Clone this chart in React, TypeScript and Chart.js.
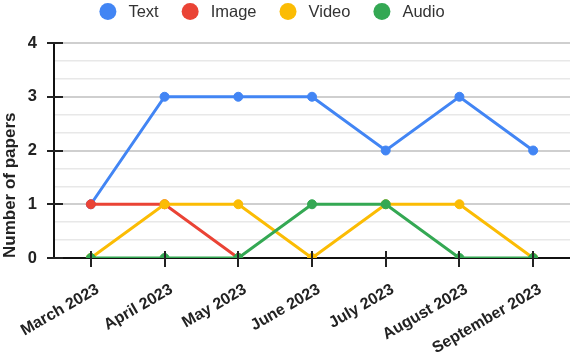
import React, { useEffect, useRef } from "react";
import { Chart, registerables } from "chart.js";

Chart.register(...registerables);

const CATEGORIES = [
  "March 2023",
  "April 2023",
  "May 2023",
  "June 2023",
  "July 2023",
  "August 2023",
  "September 2023",
];
const SERIES_NAMES = ["Text", "Image", "Video", "Audio"];
const SERIES_COLORS = ["#4285F4", "#EA4335", "#FBBC04", "#34A853"];
const TEXT_VALUES = [1, 3, 3, 3, 2, 3, 2];
const IMAGE_VALUES = [1, 1, 0, null, null, null, null];
const VIDEO_VALUES = [0, 1, 1, 0, 1, 1, 0];
const AUDIO_VALUES = [0, 0, 0, 1, 1, 0, 0];
const Y_TICK_VALUES = [0, 1, 2, 3, 4];
const Y_TICK_LABELS = ["0", "1", "2", "3", "4"];
const Y_MINOR_DIVISIONS = 3;
const Y_TITLE = "Number of papers";

const FONT = '"Liberation Sans", Arial, sans-serif';

// let the plot area run to the right edge of the canvas (Chart.js insets it by the point overflow)
const fullWidthArea = {
  id: "fullWidthArea",
  afterLayout(chart: any) {
    const xs = chart.scales.x;
    const delta = chart.width - chart.chartArea.right;
    if (delta > 0) {
      chart.chartArea.right += delta;
      chart.chartArea.width += delta;
      xs.right += delta;
      xs.width += delta;
      xs.configure();
    }
  },
};

const crossTicks = {
  id: "crossTicks",
  afterDraw(chart: any) {
    const ctx = chart.ctx;
    const xs = chart.scales.x;
    const ys = chart.scales.y;
    const area = chart.chartArea;
    ctx.save();
    ctx.strokeStyle = "#222";
    ctx.lineWidth = 2;
    ctx.beginPath();
    Y_TICK_VALUES.forEach((v) => {
      const py = Math.round(ys.getPixelForValue(v));
      ctx.moveTo(area.left - 7, py);
      ctx.lineTo(area.left + 9, py);
    });
    CATEGORIES.forEach((_, i) => {
      const px = Math.round(xs.getPixelForValue(i));
      ctx.moveTo(px, area.bottom - 7);
      ctx.lineTo(px, area.bottom + 9);
    });
    ctx.stroke();
    ctx.restore();
  },
};

const customLegend = {
  id: "customLegend",
  afterDraw(chart: any) {
    const ctx = chart.ctx;
    ctx.save();
    ctx.font = `16.5px ${FONT}`;
    ctx.textBaseline = "middle";
    ctx.textAlign = "left";
    const r = 8.5;
    const gapCircleText = 12;
    const gapItems = 23;
    const widths = SERIES_NAMES.map((n) => ctx.measureText(n).width);
    const total =
      widths.reduce((a, b) => a + b, 0) +
      SERIES_NAMES.length * (2 * r + gapCircleText) +
      (SERIES_NAMES.length - 1) * gapItems;
    let x = 272 - total / 2;
    const cy = 11.5;
    SERIES_NAMES.forEach((name, i) => {
      ctx.fillStyle = SERIES_COLORS[i];
      ctx.beginPath();
      ctx.arc(x + r, cy, r, 0, Math.PI * 2);
      ctx.fill();
      x += 2 * r + gapCircleText;
      ctx.fillStyle = "#333";
      ctx.fillText(name, x, cy + 1);
      x += widths[i] + gapItems;
    });
    ctx.restore();
  },
};

export default function App() {
  const ref = useRef<HTMLCanvasElement | null>(null);

  useEffect(() => {
    document.body.style.margin = "0";
    const canvas = ref.current;
    if (!canvas) return;
    const values = [TEXT_VALUES, IMAGE_VALUES, VIDEO_VALUES, AUDIO_VALUES];
    const orders = [4, 3, 2, 1];
    const chart = new Chart(canvas, {
      type: "line",
      data: {
        labels: CATEGORIES,
        datasets: SERIES_NAMES.map((name, i) => ({
          label: name,
          data: values[i] as any,
          borderColor: SERIES_COLORS[i],
          backgroundColor: SERIES_COLORS[i],
          pointBackgroundColor: SERIES_COLORS[i],
          pointBorderColor: SERIES_COLORS[i],
          borderWidth: 3,
          pointRadius: 4.5,
          pointBorderWidth: 1,
          tension: 0,
          spanGaps: false,
          order: orders[i],
        })),
      },
      options: {
        responsive: false,
        animation: false,
        events: [],
        layout: { padding: { top: 43, right: 0, left: 0, bottom: 0 } },
        plugins: {
          legend: { display: false },
          tooltip: { enabled: false },
        },
        scales: {
          x: {
            type: "category",
            offset: true,
            z: 1,
            grid: {
              offset: false,
              drawOnChartArea: false,
              drawTicks: true,
              tickLength: 7,
              tickColor: "transparent",
            },
            border: { display: true, color: "#111", width: 2 },
            ticks: {
              autoSkip: false,
              minRotation: 30,
              maxRotation: 30,
              padding: 15,
              labelOffset: 7,
              color: "#222",
              font: { family: FONT, size: 16, weight: "bold" },
            },
            afterFit: (scale: any) => {
              scale.height = 94;
              scale.paddingLeft = 0;
              scale.paddingRight = 0;
            },
          },
          y: {
            min: 0,
            max: 4,
            afterBuildTicks: (scale: any) => {
              const t: any[] = [];
              const n = (Y_TICK_VALUES.length - 1) * Y_MINOR_DIVISIONS;
              for (let i = 0; i <= n; i++) {
                t.push({ value: (i / n) * Y_TICK_VALUES[Y_TICK_VALUES.length - 1] });
              }
              scale.ticks = t;
            },
            grid: {
              drawTicks: true,
              tickLength: 7,
              tickColor: "transparent",
              color: (c: any) => {
                const v = c.tick ? c.tick.value : 0;
                return Math.abs(v - Math.round(v)) < 1e-6 ? "#cfcfcf" : "#e8e8e8";
              },
              lineWidth: (c: any) => {
                const v = c.tick ? c.tick.value : 0;
                return Math.abs(v - Math.round(v)) < 1e-6 ? 2 : 1.5;
              },
            },
            border: { display: true, color: "#111", width: 2 },
            ticks: {
              autoSkip: false,
              padding: 10,
              color: "#222",
              font: { family: FONT, size: 16.5, weight: "bold" },
              callback: (v: any) => {
                const idx = Y_TICK_VALUES.findIndex((t) => Math.abs(t - Number(v)) < 1e-6);
                return idx >= 0 ? Y_TICK_LABELS[idx] : "";
              },
            },
            title: {
              display: true,
              text: Y_TITLE,
              align: "start",
              color: "#222",
              font: { family: FONT, size: 17, weight: "bold" },
              padding: { top: 0, bottom: 2 },
            },
            afterFit: (scale: any) => {
              scale.width = 54;
              scale.paddingTop = 0;
              scale.paddingBottom = 0;
            },
          },
        },
      },
      plugins: [fullWidthArea, crossTicks, customLegend],
    } as any);
    return () => chart.destroy();
  }, []);

  return (
    <div style={{ width: 570, height: 352 }}>
      <canvas ref={ref} width={570} height={352} style={{ display: "block" }} />
    </div>
  );
}
